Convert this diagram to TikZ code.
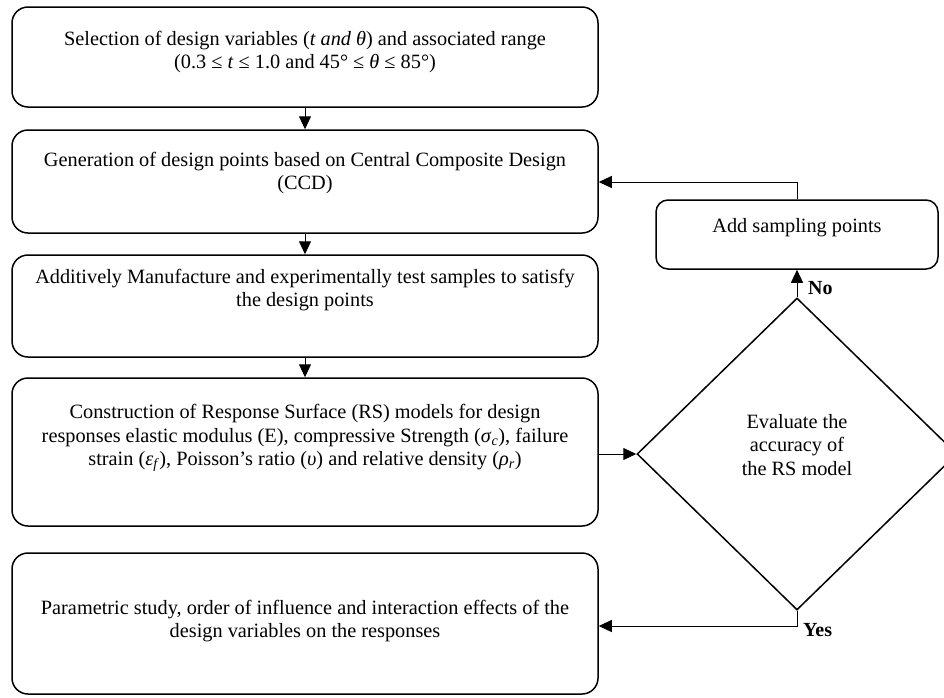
\documentclass[tikz,border=0pt]{standalone}
\usepackage{fontspec}
\setmainfont{Liberation Serif}
\usetikzlibrary{arrows.meta,shapes.geometric}
\newcommand\mvar[1]{\textit{#1}}
\begin{document}
\begin{tikzpicture}[x=1pt,y=-1pt,
  box/.style={draw, line width=1.5pt, rounded corners=16pt, inner sep=0pt},
  txt/.style={align=center, font=\fontsize{20.3}{23.5}\selectfont, inner sep=0pt},
  arr/.style={line width=1pt, -{Triangle[length=13pt,width=12pt]}},
  lbl/.style={font=\fontsize{20}{22}\selectfont\bfseries, inner sep=0pt, anchor=west}]
\useasboundingbox (0,0) rectangle (944,697);
\fill[white] (0,0) rectangle (944,697);
\begin{scope}
\clip (0,0) rectangle (944,697);
\node[box, minimum width=586pt, minimum height=100pt] (b1) at (305,57) {};
\node[box, minimum width=586pt, minimum height=103pt] (b2) at (305,181.5) {};
\node[box, minimum width=586pt, minimum height=102pt] (b3) at (305,306) {};
\node[box, minimum width=586pt, minimum height=148pt] (b4) at (305,452) {};
\node[box, minimum width=586pt, minimum height=141pt] (b5) at (305,623.5) {};
\node[box, minimum width=282pt, minimum height=69pt, rounded corners=12pt] (ad) at (797,234.5) {};
\node[draw, line width=1.5pt, diamond, inner sep=0pt, minimum width=320pt, minimum height=312pt] (dia) at (797,454) {};
\end{scope}

\node[txt] (t1) at (305,52) {Selection of design variables (\mvar{t and θ}) and associated range\\(0.3 ≤ \mvar{t} ≤ 1.0 and 45° ≤ \mvar{θ} ≤ 85°)};
\node[txt] (t2) at (305,173) {Generation of design points based on Central Composite Design\\(CCD)};
\node[txt] (t3) at (305,290) {Additively Manufacture and experimentally test samples to satisfy\\the design points};
\node[txt] (t4) at (305,438) {Construction of Response Surface (RS) models for design\\responses elastic modulus (E), compressive Strength (\mvar{σ}\textsubscript{\mvar{c}}), failure\\strain (\mvar{ε}\textsubscript{\mvar{f}}), Poisson’s ratio (\mvar{υ}) and relative density (\mvar{ρ}\textsubscript{\mvar{r}})};
\node[txt] (t5) at (305,621) {Parametric study, order of influence and interaction effects of the\\design variables on the responses};
\node[txt] (ta) at (797,228) {Add sampling points};
\node[txt] (td) at (797,445) {Evaluate the\\accuracy of\\the RS model};
\node[lbl] (no) at (808,288) {No};
\node[lbl] (yes) at (803,630) {Yes};

\coordinate (fb) at (797,182);
\coordinate (yc) at (797,626);
\draw[arr] (b1.south) -- (b2.north);
\draw[arr] (b2.south) -- (b3.north);
\draw[arr] (b3.south) -- (b4.north);
\draw[arr] (b4.east |- dia.west) -- (dia.west);
\draw[arr] (dia.north) -- (ad.south);
\draw[arr] (ad.north) -- (fb) -- (b2.east |- fb);
\draw[arr] (dia.south) -- (yc) -- (b5.east |- yc);
\end{tikzpicture}
\end{document}
